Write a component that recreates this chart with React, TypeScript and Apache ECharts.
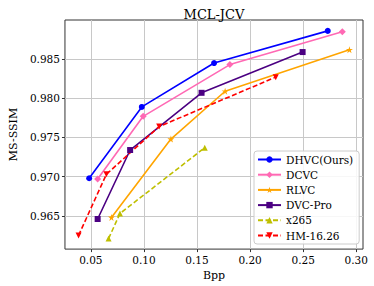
import React, { useEffect, useRef } from "react";
import * as echarts from "echarts";

const title = "MCL-JCV";
const xTicks = [0.05, 0.1, 0.15, 0.2, 0.25, 0.3];
const yTicks = [0.965, 0.97, 0.975, 0.98, 0.985];

const dhvcBpp = [0.0484, 0.098, 0.1661, 0.2732];
const dhvcSsim = [0.9698, 0.9789, 0.9845, 0.9886];
const dcvcBpp = [0.0564, 0.0993, 0.181, 0.2869];
const dcvcSsim = [0.9697, 0.9777, 0.9843, 0.9885];
const rlvcBpp = [0.0694, 0.1254, 0.1765, 0.2936];
const rlvcSsim = [0.9648, 0.9748, 0.9809, 0.9862];
const dvcProBpp = [0.0564, 0.087, 0.1543, 0.2495];
const dvcProSsim = [0.9646, 0.9734, 0.9807, 0.9859];
const x265Bpp = [0.0667, 0.0774, 0.1573];
const x265Ssim = [0.9621, 0.9653, 0.9737];
const hmBpp = [0.0384, 0.0646, 0.1144, 0.2242];
const hmSsim = [0.9625, 0.9703, 0.9764, 0.9827];

const FONT = "DejaVu Serif";

const diamond = "path://M0,-1L1,0L0,1L-1,0Z";
const star =
  "path://M0,-1L0.2245,-0.309L0.951,-0.309L0.3633,0.118L0.5878,0.809L0,0.382L-0.5878,0.809L-0.3633,0.118L-0.951,-0.309L-0.2245,-0.309Z";

function zip(xs: number[], ys: number[]) {
  return xs.map((x, i) => [x, ys[i]]);
}

export default function App() {
  const ref = useRef<HTMLDivElement>(null);
  useEffect(() => {
    document.body.style.margin = "0";
    const chart = echarts.init(ref.current!, null, { renderer: "svg" });
    const mk = (
      name: string,
      xs: number[],
      ys: number[],
      color: string,
      symbol: string,
      size: number,
      dashed: boolean,
      rotate = 0
    ) => ({
      name,
      type: "line",
      data: zip(xs, ys),
      symbol,
      symbolSize: size,
      symbolRotate: rotate,
      showAllSymbol: true,
      itemStyle: { color, borderWidth: 0 },
      lineStyle: { color, width: 1.6, type: dashed ? [5, 2.5] : "solid" },
      z: 3,
    });
    chart.setOption({
      animation: false,
      backgroundColor: "#ffffff",
      title: {
        text: title,
        left: 209,
        top: 3,
        textAlign: "center",
        textStyle: { fontFamily: FONT, fontSize: 13, fontWeight: "normal", color: "#000" },
      },
      grid: {
        left: 55,
        top: 20,
        width: 308,
        height: 230,
        show: true,
        borderColor: "#333",
        borderWidth: 1,
      },
      xAxis: {
        type: "value",
        min: 0.0256,
        max: 0.3064,
        name: "Bpp",
        nameLocation: "middle",
        nameGap: 20,
        nameTextStyle: { fontFamily: FONT, fontSize: 11, color: "#000" },
        axisLine: { show: false },
        axisTick: { show: true, length: 3, customValues: xTicks, lineStyle: { color: "#333" } },
        axisLabel: {
          customValues: xTicks,
          fontFamily: FONT,
          fontSize: 10.5,
          color: "#000",
          margin: 5,
          formatter: (v: number) => v.toFixed(2),
        },
        splitLine: { show: true, lineStyle: { color: "#c8c8c8", width: 1 } },
      },
      yAxis: {
        type: "value",
        min: 0.96076,
        max: 0.98999,
        name: "MS-SSIM",
        nameLocation: "middle",
        nameGap: 42,
        nameTextStyle: { fontFamily: FONT, fontSize: 11, color: "#000" },
        axisLine: { show: false },
        axisTick: { show: true, length: 3, customValues: yTicks, lineStyle: { color: "#333" } },
        axisLabel: {
          customValues: yTicks,
          fontFamily: FONT,
          fontSize: 10.5,
          color: "#000",
          margin: 5,
          formatter: (v: number) => v.toFixed(3),
        },
        splitLine: { show: true, lineStyle: { color: "#c8c8c8", width: 1 } },
      },
      legend: {
        orient: "vertical",
        left: 254,
        top: 151,
        itemWidth: 23,
        itemHeight: 8,
        itemGap: 4.2,
        padding: [3, 6, 3, 3],
        backgroundColor: "rgba(255,255,255,0.85)",
        borderColor: "#cccccc",
        borderWidth: 1,
        borderRadius: 3,
        textStyle: { fontFamily: FONT, fontSize: 10.5, color: "#000" },
        data: ["DHVC(Ours)", "DCVC", "RLVC", "DVC-Pro", "x265", "HM-16.26"],
      },
      series: [
        mk("DHVC(Ours)", dhvcBpp, dhvcSsim, "#0000ff", "circle", 6, false),
        mk("DCVC", dcvcBpp, dcvcSsim, "#ff69b4", diamond, 7, false),
        mk("RLVC", rlvcBpp, rlvcSsim, "#ffa500", star, 7, false),
        mk("DVC-Pro", dvcProBpp, dvcProSsim, "#4b0082", "rect", 6, false),
        mk("x265", x265Bpp, x265Ssim, "#bfbf00", "triangle", 6, true),
        mk("HM-16.26", hmBpp, hmSsim, "#ff0000", "triangle", 6, true, 180),
      ],
    });
    return () => chart.dispose();
  }, []);
  return <div ref={ref} style={{ width: 374, height: 286 }} />;
}
